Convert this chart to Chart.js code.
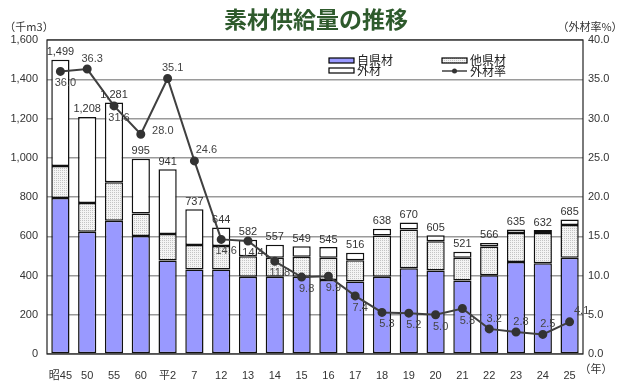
<!DOCTYPE html>
<html>
<head>
<meta charset="utf-8">
<script src="https://cdn.jsdelivr.net/npm/chart.js@4"></script>
<style>
  body { margin: 0; background: #fff; }
</style>
</head>
<body>
<canvas id="chart" width="622" height="384"></canvas>
<script>
// data
const years = ['昭45', '50', '55', '60', '平2', '7', '12', '13', '14', '15', '16', '17', '18', '19', '20', '21', '22', '23', '24', '25'];
const jiken = [795, 623, 679, 601, 477, 431, 431, 394, 394, 394, 377, 369, 394, 437, 426, 375, 401, 469, 462, 491];   // 自県材
const taken = [163, 147, 196, 115, 134, 125, 119, 104, 97, 101, 114, 109, 210, 198, 149, 116, 147, 148, 154, 166];   // 他県材
const gaizai = [541, 438, 406, 279, 330, 181, 94, 84, 66, 54, 54, 38, 34, 35, 30, 30, 18, 18, 16, 28];              // 外材
const gaizaiRate = [36.0, 36.3, 31.6, 28.0, 35.1, 24.6, 14.6, 14.4, 11.8, 9.8, 9.9, 7.4, 5.3, 5.2, 5.0, 5.8, 3.2, 2.8, 2.5, 4.1]; // 外材率(%)
const leftTicks = [0, 200, 400, 600, 800, 1000, 1200, 1400, 1600];
const rightTicks = [0, 5, 10, 15, 20, 25, 30, 35, 40];

// where each rate label sits relative to its point
const rateLabelPos = ['below', 'above', 'below', 'right', 'above', 'upright', 'below', 'below', 'below', 'below',
  'below', 'below', 'below', 'below', 'below', 'below', 'above', 'above', 'above', 'upright'];

const FONT = "'Liberation Sans', 'Noto Sans CJK JP', sans-serif";
const JP = "'Noto Sans CJK JP', sans-serif";

// stippled fill for 他県材
function dotPattern() {
  const pc = document.createElement('canvas');
  pc.width = 2; pc.height = 2;
  const p = pc.getContext('2d');
  p.fillStyle = '#f4f4f4';
  p.fillRect(0, 0, 2, 2);
  p.fillStyle = '#c4c4c4';
  p.fillRect(0, 0, 1, 1);
  return p.createPattern(pc, 'repeat');
}
const dots = dotPattern();

const totals = years.map((_, i) => jiken[i] + taken[i] + gaizai[i]);

const decor = {
  id: 'decor',
  beforeDraw(chart) {
    const c = chart.ctx;
    c.save();
    c.fillStyle = '#fff';
    c.fillRect(0, 0, chart.width, chart.height);
    c.restore();
  },
  afterDatasetsDraw(chart) {
    const c = chart.ctx;
    const a = chart.chartArea;
    c.save();
    // plot box
    c.strokeStyle = '#222';
    c.lineWidth = 1.2;
    c.strokeRect(a.left, a.top, a.right - a.left, a.bottom - a.top);

    // totals above the bars
    c.font = '11px ' + FONT;
    c.fillStyle = '#333';
    c.textAlign = 'center';
    c.textBaseline = 'bottom';
    const top = chart.getDatasetMeta(3);
    top.data.forEach((el, i) => {
      c.fillText(totals[i].toLocaleString('en-US'), el.x, el.y - 2);
    });

    // rate labels
    c.fillStyle = '#444';
    c.textBaseline = 'middle';
    const line = chart.getDatasetMeta(0);
    line.data.forEach((el, i) => {
      let dx = 5, dy = 12;
      if (rateLabelPos[i] === 'above') { dx = 5; dy = -10; }
      if (rateLabelPos[i] === 'right') { dx = 22; dy = -3; }
      if (rateLabelPos[i] === 'upright') { dx = 12; dy = -11; }
      c.fillText(gaizaiRate[i].toFixed(1), el.x + dx, el.y + dy);
    });

    // legend
    c.font = '12px ' + JP;
    c.textAlign = 'left';
    c.strokeStyle = '#000';
    c.lineWidth = 1.2;
    const boxes = [
      { x: 329, y: 58, fill: '#9999ff', text: '自県材' },
      { x: 329, y: 68, fill: '#ffffff', text: '外材' },
      { x: 442, y: 58, fill: dots, text: '他県材' }
    ];
    boxes.forEach(b => {
      c.fillStyle = b.fill;
      c.fillRect(b.x, b.y, 25, 5);
      c.strokeRect(b.x, b.y, 25, 5);
      c.fillStyle = '#222';
      c.fillText(b.text, b.x + 28, b.y + 2.5);
    });
    c.strokeStyle = '#404040';
    c.lineWidth = 1.5;
    c.beginPath();
    c.moveTo(442, 71); c.lineTo(467, 71);
    c.stroke();
    c.fillStyle = '#333';
    c.beginPath();
    c.arc(454.5, 71, 2.5, 0, Math.PI * 2);
    c.fill();
    c.fillStyle = '#222';
    c.fillText('外材率', 470, 71);
    c.restore();
  },
  afterDraw(chart) {
    const c = chart.ctx;
    c.save();
    // title
    c.font = "bold 23px 'Noto Sans CJK JP', sans-serif";
    c.fillStyle = '#2e5a2c';
    c.textAlign = 'center';
    c.textBaseline = 'middle';
    c.fillText('素材供給量の推移', 316, 19);
    // axis units
    c.font = '11px ' + JP;
    c.fillStyle = '#333';
    c.fillText('（千m3）', 29, 27);
    c.fillText('（外材率%）', 590, 27);
    c.fillText('（年）', 596, 369);
    c.restore();
  }
};

new Chart(document.getElementById('chart').getContext('2d'), {
  type: 'bar',
  data: {
    labels: years,
    datasets: [
      {
        type: 'line',
        label: '外材率',
        data: gaizaiRate,
        yAxisID: 'y1',
        borderColor: '#404040',
        borderWidth: 2,
        pointRadius: 3.5,
        pointBackgroundColor: '#333',
        pointBorderColor: '#333',
        tension: 0,
        order: 0
      },
      {
        label: '自県材',
        data: jiken,
        backgroundColor: '#9999ff',
        borderColor: '#111',
        borderWidth: 1.5,
        borderSkipped: false,
        order: 1
      },
      {
        label: '他県材',
        data: taken,
        backgroundColor: dots,
        borderColor: '#111',
        borderWidth: 1.5,
        borderSkipped: false,
        order: 1
      },
      {
        label: '外材',
        data: gaizai,
        backgroundColor: '#fff',
        borderColor: '#111',
        borderWidth: 1.5,
        borderSkipped: false,
        order: 1
      }
    ]
  },
  options: {
    responsive: false,
    animation: false,
    layout: { padding: { top: 40, left: 0, right: 0, bottom: 0 } },
    datasets: { bar: { barPercentage: 0.68, categoryPercentage: 1 } },
    plugins: { legend: { display: false }, tooltip: { enabled: false } },
    scales: {
      x: {
        stacked: true,
        grid: { display: false },
        border: { display: false },
        ticks: { color: '#333', font: { size: 11, family: FONT }, padding: 7, maxRotation: 0 },
        afterFit(s) { s.height = 30; }
      },
      y: {
        stacked: true,
        min: leftTicks[0],
        max: leftTicks[leftTicks.length - 1],
        afterBuildTicks(s) { s.ticks = leftTicks.map(v => ({ value: v })); },
        grid: { color: '#9a9a9a', lineWidth: 1.5, drawTicks: false },
        border: { display: false },
        ticks: { color: '#333', font: { size: 11, family: FONT }, padding: 9, callback: v => v.toLocaleString('en-US') },
        afterFit(s) { s.width = 47; }
      },
      y1: {
        position: 'right',
        min: rightTicks[0],
        max: rightTicks[rightTicks.length - 1],
        afterBuildTicks(s) { s.ticks = rightTicks.map(v => ({ value: v })); },
        grid: { display: false, drawTicks: false },
        border: { display: false },
        ticks: { color: '#333', font: { size: 11, family: FONT }, padding: 5, callback: v => v.toFixed(1) },
        afterFit(s) { s.width = 39; }
      }
    }
  },
  plugins: [decor]
});
</script>
</body>
</html>
